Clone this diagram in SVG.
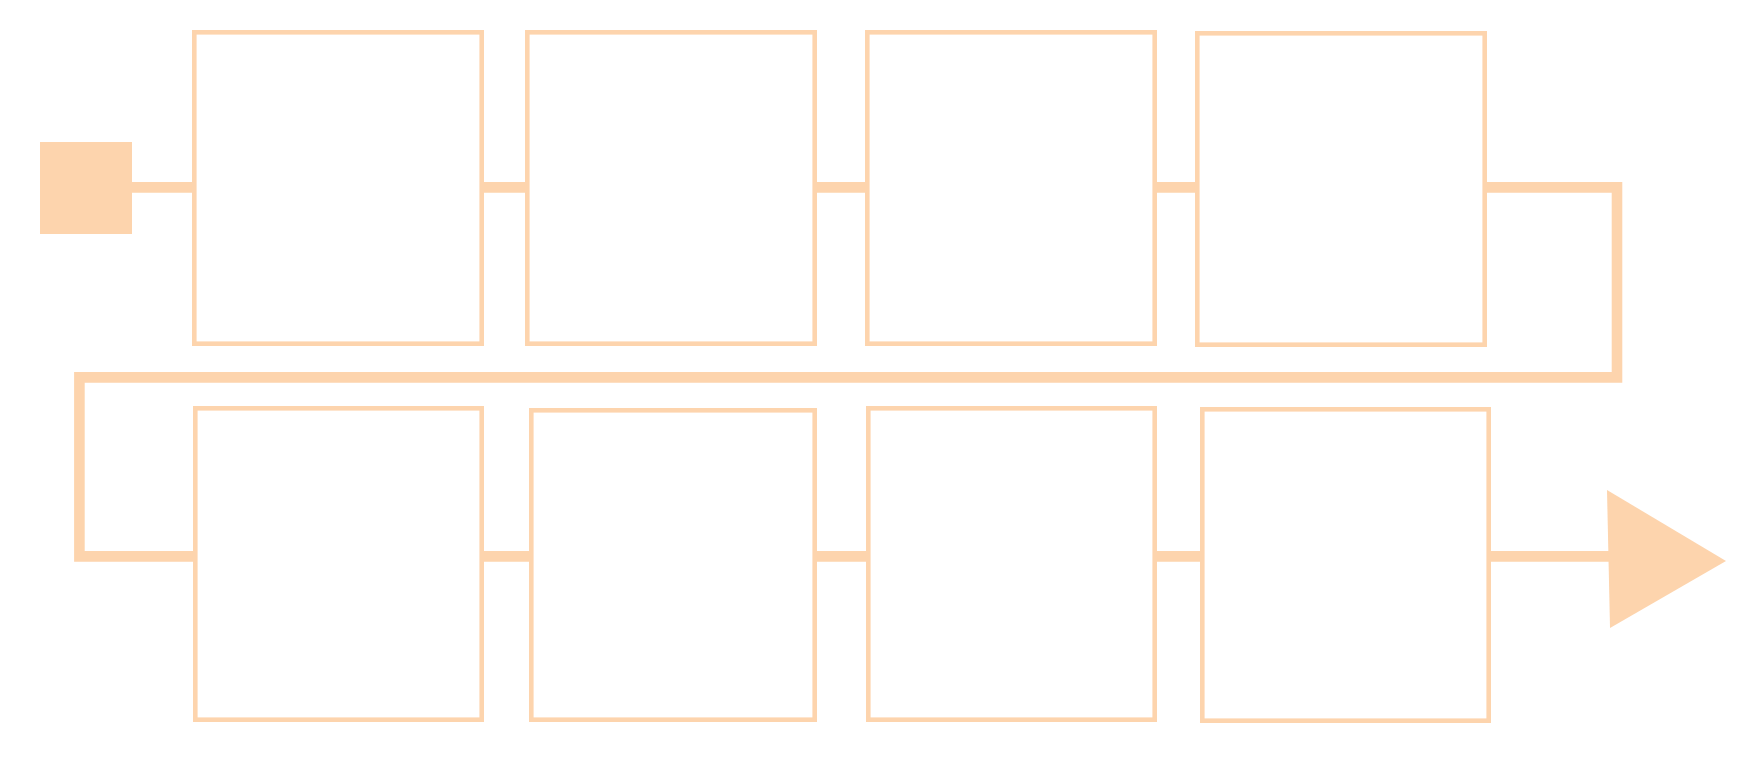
<svg xmlns="http://www.w3.org/2000/svg" width="1739" height="765" viewBox="0 0 1739 765">
<style>
.box{fill:#ffffff;stroke:#fdd4ad;stroke-width:4.6}
.con{fill:none;stroke:#fdd4ad;stroke-width:10.6;stroke-linejoin:miter;stroke-linecap:butt}
.solid{fill:#fdd4ad}
</style>
<rect width="1739" height="765" fill="#ffffff"/>
<g id="connectors">
<path class="con" d="M132,187.4 H194"/>
<path class="con" d="M482,187.4 H527"/>
<path class="con" d="M815,187.4 H867"/>
<path class="con" d="M1155,187.4 H1199"/>
<path class="con" d="M1485,187.4 H1617 V377.4 H79.4 V556.4 H195"/>
<path class="con" d="M482,556.4 H531"/>
<path class="con" d="M815,556.4 H868"/>
<path class="con" d="M1155,556.4 H1202"/>
<path class="con" d="M1489,556.4 H1612"/>
<polygon class="solid" points="1607,490 1610,628 1726,561"/>
</g>
<g id="start"><rect class="solid" x="40" y="142" width="92" height="92"/></g>
<g id="step1"><rect class="box" x="194.3" y="32.3" width="287.4" height="311.4"/></g>
<g id="step2"><rect class="box" x="527.3" y="32.3" width="287.4" height="311.4"/></g>
<g id="step3"><rect class="box" x="867.3" y="32.3" width="287.4" height="311.4"/></g>
<g id="step4"><rect class="box" x="1197.3" y="33.3" width="287.4" height="311.4"/></g>
<g id="step5"><rect class="box" x="195.3" y="408.3" width="286.4" height="311.4"/></g>
<g id="step6"><rect class="box" x="531.3" y="410.3" width="283.4" height="309.4"/></g>
<g id="step7"><rect class="box" x="868.3" y="408.3" width="286.4" height="311.4"/></g>
<g id="step8"><rect class="box" x="1202.3" y="409.3" width="286.4" height="311.4"/></g>
</svg>
